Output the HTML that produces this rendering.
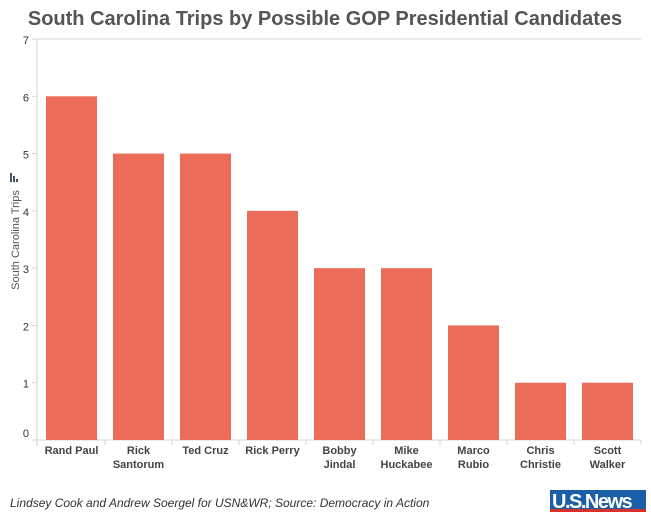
<!DOCTYPE html>
<html><head><meta charset="utf-8"><style>
body{margin:0;width:651px;height:525px;background:#fff;overflow:hidden;font-family:"Liberation Sans",sans-serif}
</style></head><body>
<svg width="651" height="525" xmlns="http://www.w3.org/2000/svg">
<text x="325" y="25" text-anchor="middle" font-size="20" font-weight="bold" fill="#555">South Carolina Trips by Possible GOP Presidential Candidates</text>
<g id="plot"></g>
<text transform="translate(19,240) rotate(-90)" text-anchor="middle" font-size="11" fill="#555">South Carolina Trips</text>
<g fill="#44546a"><rect x="10" y="173" width="2" height="9"/><rect x="13" y="176" width="2" height="6"/><rect x="16" y="179" width="2" height="3"/></g>
<text x="10" y="507" font-size="12" font-style="italic" fill="#333">Lindsey Cook and Andrew Soergel for USN&amp;WR; Source: Democracy in Action</text>
<g>
<rect x="550" y="490" width="96" height="21" fill="#1a5ea8"/>
<rect x="550" y="509" width="96" height="3" fill="#d9302c"/>
<text x="552" y="508" font-size="20" font-weight="bold" fill="#fff" letter-spacing="-1.5">U.S.News</text>
</g>
</svg>
<script>
const categories=[["Rand Paul"],["Rick","Santorum"],["Ted Cruz"],["Rick Perry"],["Bobby","Jindal"],["Mike","Huckabee"],["Marco","Rubio"],["Chris","Christie"],["Scott","Walker"]];
const values=[6,5,5,4,3,3,2,1,1];
const yTicks=[0,1,2,3,4,5,6,7];
const NS="http://www.w3.org/2000/svg";
const g=document.getElementById('plot');
const x0=38,band=67,y0=440,unit=(440-39)/7;
const y=v=>y0-v*unit, x=i=>x0+i*band;
function mk(t,a){const e=document.createElementNS(NS,t);for(const k in a)e.setAttribute(k,a[k]);g.appendChild(e);return e;}
let l=mk('line',{x1:37,y1:39,x2:37,y2:446,stroke:'#d4d4d4'});


l=mk('line',{x1:32,y1:39,x2:x(9),y2:39,stroke:'#d4d4d4'});


l=mk('line',{x1:32,y1:y0,x2:x(9),y2:y0,stroke:'#d4d4d4'});


yTicks.forEach(t=>{
 const tk=mk('line',{x1:32,y1:y(t),x2:37,y2:y(t),stroke:'#d4d4d4'});
 
 
 const tx=mk('text',{x:29,y:y(t)+(t==0?-3:5),'text-anchor':'end','font-size':11,fill:'#333'});
 tx.textContent=t;
 
 
});
values.forEach((v,i)=>{
 const r=mk('rect',{x:x(i)+8,y:y(v),width:51,height:y0-y(v),fill:'#ec6b59'});
 
 
 const tk=mk('line',{x1:x(i+1),y1:y0,x2:x(i+1),y2:y0+5,stroke:'#d4d4d4'});
 
 
 categories[i].forEach((s,j)=>{
  const t=mk('text',{x:x(i)+band/2,y:454+j*14,'text-anchor':'middle','font-size':11,'font-weight':'bold',fill:'#444'});
  t.textContent=s;
  
  
 });
});
</script>
</body></html>
